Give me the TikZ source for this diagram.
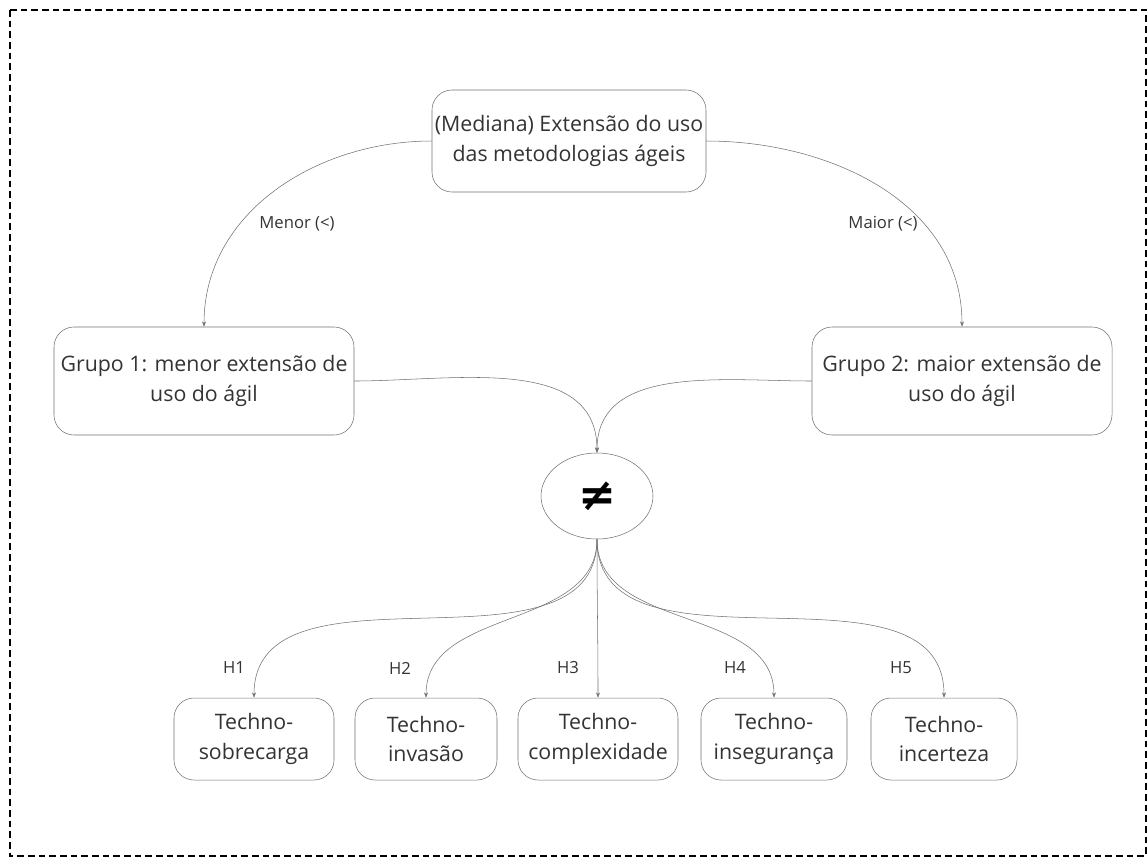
\documentclass[tikz,border=0pt]{standalone}
\usepackage{fontspec}
\setmainfont{Open Sans}
\newfontfamily\symfont{DejaVu Sans}
\usetikzlibrary{arrows.meta,shapes.geometric}
\definecolor{txtgray}{HTML}{333333}
\definecolor{linegray}{HTML}{707070}
\begin{document}
\begin{tikzpicture}[x=0.75pt,y=-0.75pt,
  box/.style={draw=linegray,rounded corners=15pt,align=center,inner sep=0pt,text=txtgray,
    minimum height=61.5pt,font=\fontsize{16}{22}\selectfont},
  lbl/.style={text=txtgray,font=\fontsize{12.5}{14}\selectfont,inner sep=1pt},
  conn/.style={draw=linegray,-{Stealth[length=4pt,width=3pt]}}]
\useasboundingbox (0,0) rectangle (1148,858);
\draw[dash pattern=on 5pt off 3pt,line width=0.9pt] (10,10) rectangle (1146,856);
% nodes
\node[box,minimum width=205.5pt,minimum height=76.5pt] (top) at (569,141) {(Mediana) Extensão do uso\\das metodologias ágeis};
\node[box,minimum width=225pt,minimum height=81pt] (g1) at (204,381) {Grupo 1: menor extensão de\\uso do ágil};
\node[box,minimum width=225pt,minimum height=81pt] (g2) at (962,381) {Grupo 2: maior extensão de\\uso do ágil};
\node[ellipse,draw=linegray,minimum width=84pt,minimum height=64.5pt,inner sep=0pt] (neq) at (597,496) {\symfont\bfseries\fontsize{34}{34}\selectfont ≠};
\node[box,minimum width=120pt] (t1) at (254,739) {Techno-\\sobrecarga};
\node[box,minimum width=106.5pt] (t2) at (426,739) {Techno-\\invasão};
\node[box,minimum width=120pt] (t3) at (598,739) {Techno-\\complexidade};
\node[box,minimum width=109.5pt] (t4) at (774,739) {Techno-\\insegurança};
\node[box,minimum width=109.5pt] (t5) at (944,739) {Techno-\\incerteza};
% labels
\node[lbl] (menor) at (297,224) {Menor (<)};
\node[lbl] (maior) at (883,224) {Maior (<)};
\node[lbl] (h1) at (234,668) {H1};
\node[lbl] (h2) at (400,668) {H2};
\node[lbl] (h3) at (568,668) {H3};
\node[lbl] (h4) at (735,668) {H4};
\node[lbl] (h5) at (901,668) {H5};
% edges
\draw[conn] (top.west) to[out=180,in=90] (g1.north);
\draw[conn] (top.east) to[out=0,in=90] (g2.north);
\draw[conn] (g1.east) to[out=0,in=90] (neq.north);
\draw[conn] (g2.west) to[out=180,in=90] (neq.north);
\foreach \t in {t1,t2,t3,t4,t5}
  \draw[conn] (neq.south) to[out=-90,in=90] (\t.north);
\end{tikzpicture}
\end{document}
